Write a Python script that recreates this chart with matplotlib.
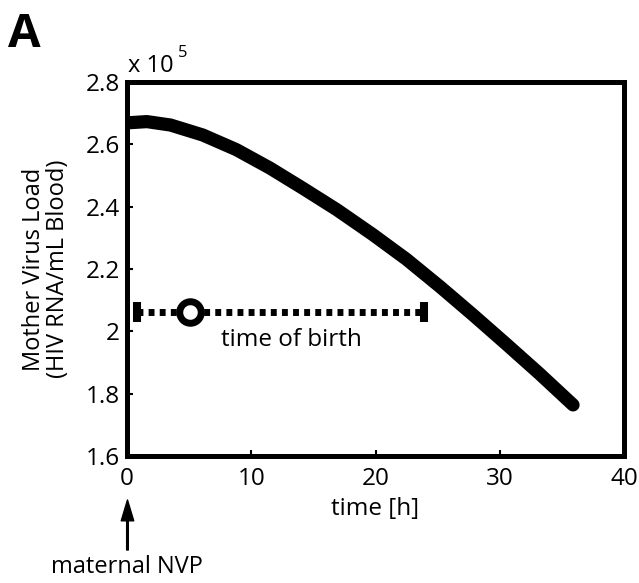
import numpy as np
import matplotlib
matplotlib.use('Agg')
import matplotlib.pyplot as plt

plt.rcParams['font.family'] = ['Open Sans', 'DejaVu Sans']

# mother virus load (x 10^5) over time [h]
t = [0, 1.6, 3.5, 6.1, 8.8, 11.5, 14.2, 16.9, 19.8, 22.5, 25.2, 27.9, 30.5, 33.2, 35.9]
load = [2.669, 2.673, 2.662, 2.630, 2.583, 2.524, 2.458, 2.390, 2.310, 2.231,
        2.143, 2.051, 1.960, 1.864, 1.764]

# time-of-birth window
birth_start, birth_end = 0.8, 23.9
birth_mid = 5.1
birth_level = 2.063

xticks = [0, 10, 20, 30, 40]
yticks = [1.6, 1.8, 2.0, 2.2, 2.4, 2.6, 2.8]
yticklabels = ['1.6', '1.8', '2', '2.2', '2.4', '2.6', '2.8']

fig = plt.figure(figsize=(6.39, 5.83), dpi=100)
ax = fig.add_axes([0.1988, 0.2178, 0.7777, 0.6415])

ax.plot(t, load, 'k-', lw=9.5, solid_capstyle='round', solid_joinstyle='round')
ax.plot([birth_start, birth_end], [birth_level, birth_level], 'k', lw=5,
        dashes=(0.85, 0.75))
ax.plot([birth_start, birth_end], [birth_level, birth_level], 'k|',
        markersize=14.5, mew=5.8)
ax.plot(birth_mid, birth_level, 'o', mfc='white', mec='k', mew=5, markersize=15.5)
ax.text(7.55, 1.972, 'time of birth', fontsize=17.5, va='center', ha='left')

ax.set_xlim(0, 40)
ax.set_ylim(1.6, 2.8)
ax.set_xticks(xticks)
ax.set_yticks(yticks)
ax.set_yticklabels(yticklabels)
ax.tick_params(direction='in', length=4, width=1.5, labelsize=17.5)
ax.tick_params(axis='x', pad=8)
ax.tick_params(axis='y', pad=5)
for s in ax.spines.values():
    s.set_linewidth(3.6)

ax.set_xlabel('time [h]', fontsize=17.5, labelpad=4)
ax.set_ylabel('Mother Virus Load\n(HIV RNA/mL Blood)', fontsize=17, labelpad=11,
              linespacing=1.0)

fig.text(0.200, 0.887, 'x 10', fontsize=17, ha='left', va='center')
fig.text(0.279, 0.909, '5', fontsize=12, ha='left', va='center')

fig.text(0.012, 0.92, 'A', fontsize=34, fontweight='bold', ha='left', va='baseline')

ax.annotate('', xy=(0.1995, 0.1424), xytext=(0.1995, 0.0566), xycoords='figure fraction',
            textcoords='figure fraction',
            arrowprops=dict(facecolor='black', width=1.2, headwidth=9, headlength=15))
fig.text(0.199, 0.027, 'maternal NVP', fontsize=17, ha='center', va='center')

fig.savefig('out.png', dpi=100)
